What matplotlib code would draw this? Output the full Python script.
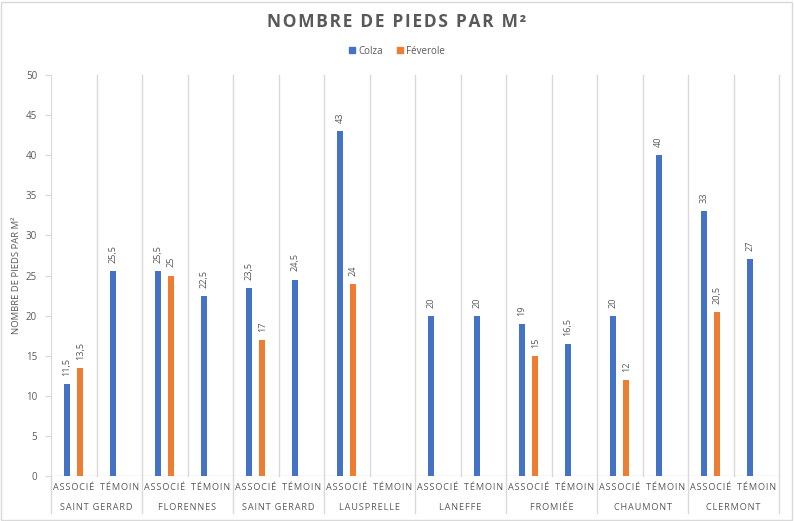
import matplotlib
matplotlib.use("Agg")
import matplotlib.pyplot as plt
import numpy as np
from matplotlib.patches import Rectangle
from matplotlib.lines import Line2D

locations = ["SAINT GERARD", "FLORENNES", "SAINT GERARD", "LAUSPRELLE",
             "LANEFFE", "FROMIÉE", "CHAUMONT", "CLERMONT"]
sub_labels = ["ASSOCIÉ", "TÉMOIN"]
colza = [11.5, 25.5, 25.5, 22.5, 23.5, 24.5, 43, None,
         20, 20, 19, 16.5, 20, 40, 33, 27]
feverole = [13.5, None, 25, None, 17, None, 24, None,
            None, None, 15, None, 12, None, 20.5, None]
colza_label = "Colza"
feverole_label = "Féverole"
title = "NOMBRE DE PIEDS PAR M²"
ylabel = "NOMBRE DE PIEDS PAR M²"
yticks = [0, 5, 10, 15, 20, 25, 30, 35, 40, 45, 50]

BLUE = "#4472C4"
ORANGE = "#ED7D31"
GRAY = "#595959"
GRID = "#D9D9D9"
FONT = "Open Sans"
FAM = [FONT, "DejaVu Sans"]

def fmt(v):
    return ("%g" % v).replace(".", ",")

def spaced(s, sep="\u200a"):
    return sep.join(s)

W, H = 794, 521
fig = plt.figure(figsize=(W / 100, H / 100), dpi=100)
AX_H = 476 - 75
ax = fig.add_axes([51 / W, 1 - 476 / H, (779 - 51) / W, AX_H / H])

n = len(colza)
x = np.arange(n)
off = 0.145
bw = 0.13
for i in range(n):
    if colza[i] is not None:
        ax.bar(x[i] - off, colza[i], width=bw, color=BLUE, zorder=3)
        ax.text(x[i] - off, colza[i] + 1.0, fmt(colza[i]), rotation=90,
                ha="center", va="bottom", fontsize=6.6, color=GRAY, family=FAM)
    if feverole[i] is not None:
        ax.bar(x[i] + off, feverole[i], width=bw, color=ORANGE, zorder=3)
        ax.text(x[i] + off, feverole[i] + 1.0, fmt(feverole[i]), rotation=90,
                ha="center", va="bottom", fontsize=6.6, color=GRAY, family=FAM)

ax.set_xlim(-0.5, n - 0.5)
ax.set_ylim(0, 50)
ax.set_yticks(yticks)
ax.set_yticklabels([str(t) for t in yticks], fontsize=7, color=GRAY, family=FONT)
ax.tick_params(axis="y", length=4, color=GRID, pad=6)
ax.set_xticks([])
for s in ["top", "right", "bottom"]:
    ax.spines[s].set_visible(False)
ax.spines["left"].set_color(GRID)
ax.axhline(0, color=GRID, lw=1, zorder=2)

# vertical separators
trans = ax.get_xaxis_transform()
for b in range(n + 1):
    xb = b - 0.5
    if b % 2 == 0:
        ymin = -37 / AX_H
    else:
        ymin = 0
    ymax = 0 if b == 0 else 1
    ax.add_line(Line2D([xb, xb], [ymin, ymax], transform=trans, color=GRID, lw=1,
                       clip_on=False, zorder=1))

for i in range(n):
    ax.text(x[i], -12 / AX_H, spaced(sub_labels[i % 2]), transform=trans, ha="center",
            va="center", fontsize=6.6, color=GRAY, family=FAM)
for g, name in enumerate(locations):
    ax.text(2 * g + 0.5, -31 / AX_H, spaced(name), transform=trans, ha="center",
            va="center", fontsize=6.6, color=GRAY, family=FAM)

ax.set_ylabel(ylabel, fontsize=6.8, color=GRAY, family=FAM)
ax.yaxis.set_label_coords(-30 / 728, 0.5)

fig.text(397 / W, 1 - 22 / H, spaced(title), ha="center", va="center",
         fontsize=12.5, fontweight="bold", color=GRAY, family=FAM)

handles = [Rectangle((0, 0), 1, 1, color=BLUE), Rectangle((0, 0), 1, 1, color=ORANGE)]
leg = fig.legend(handles, [colza_label, feverole_label], loc="center",
                 bbox_to_anchor=(397 / W, 1 - 51 / H), ncol=2, frameon=False,
                 prop={"family": FONT, "size": 7}, handlelength=0.6, handleheight=0.6,
                 columnspacing=1.5, handletextpad=0.3)
for t in leg.get_texts():
    t.set_color(GRAY)

fig.add_artist(Rectangle((1 / W, 1 / H), (W - 3) / W, (H - 3) / H, transform=fig.transFigure,
                         fill=False, edgecolor=GRID, lw=1))

fig.savefig("out.png", dpi=100)
